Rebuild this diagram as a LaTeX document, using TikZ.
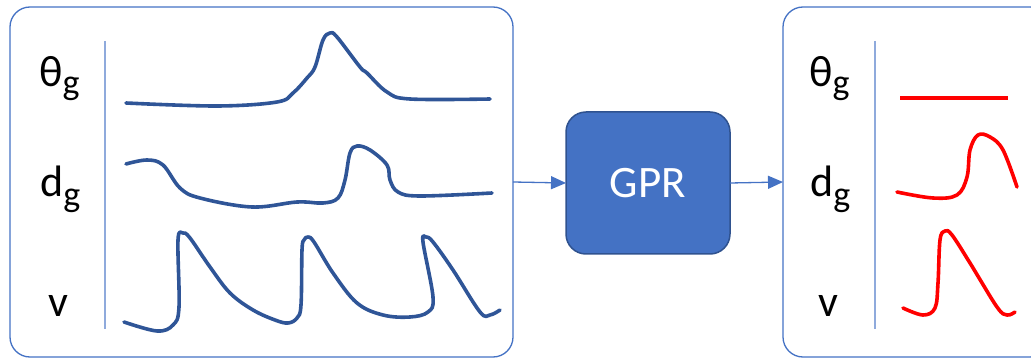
\documentclass[tikz,border=0pt]{standalone}
\usepackage{fontspec}
\setmainfont{Carlito}
\usetikzlibrary{arrows.meta}
\definecolor{boxblue}{HTML}{4472C4}
\definecolor{gprdark}{HTML}{2F528F}
\definecolor{sepblue}{HTML}{8FAADC}
\definecolor{curveblue}{HTML}{2F5597}
\definecolor{predred}{HTML}{FF0000}
\tikzset{
  panel/.style={draw=boxblue, line width=1.3pt, rounded corners=20pt, inner sep=0pt, outer sep=0pt},
  gprbox/.style={draw=gprdark, fill=boxblue, line width=1.5pt, rounded corners=20pt, inner sep=0pt, outer sep=0pt, text=white, font=\fontsize{45}{45}\selectfont},
  flow/.style={draw=boxblue, line width=1.3pt, -{Triangle[length=15pt,width=13pt]}},
  sep/.style={draw=sepblue, line width=1.3pt},
  lab/.style={anchor=base west, inner sep=0pt, font=\fontsize{44}{44}\selectfont},
  incurve/.style={draw=curveblue, line width=3.6pt, line cap=round, line join=round},
  outcurve/.style={draw=predred, line width=3.6pt, line cap=round, line join=round}
}
\newcommand{\subg}[1]{\raisebox{#1}{\fontsize{36}{36}\selectfont g}}
\begin{document}
\begin{tikzpicture}[x=1pt,y=-1pt]
\clip (0,0) rectangle (1031,358);
% panels
\node[panel, minimum width=503pt, minimum height=350pt] (left) at (261.5,182) {};
\node[panel, minimum width=267pt, minimum height=350pt] (right) at (916.5,182) {};
\node[gprbox, minimum width=164pt, minimum height=142pt] (gpr) at (648,183) {GPR};
% arrows
\draw[flow] (left.east) -- (gpr.west);
\draw[flow] (gpr.east) -- (right.west);
% separators
\coordinate (s1a) at (105,41); \coordinate (s1b) at (105,329);
\coordinate (s2a) at (875,41); \coordinate (s2b) at (875,329);
\draw[sep] (s1a) -- (s1b);
\draw[sep] (s2a) -- (s2b);
% labels left
\node[lab] (lt) at (39,87) {θ\subg{-8pt}};
\node[lab] (ld) at (40,197) {d\subg{-10pt}};
\node[lab] (lv) at (48,316) {v};
% labels right
\node[lab] (rt) at (809,87) {θ\subg{-8pt}};
\node[lab] (rd) at (810,197) {d\subg{-10pt}};
\node[lab] (rv) at (818,316) {v};
% input curves
\draw[incurve] plot[smooth, tension=0.6] coordinates {(126,103) (217,106) (277,102) (293,93) (307,78) (315,67) (323,40) (330,33) (337,37) (360,67) (367,73) (387,92) (410,99) (490,99)};
\draw[incurve] plot[smooth, tension=0.6] coordinates {(126,164) (147,160) (163,165) (180,188) (200,198) (252,207) (297,202) (323,203) (338,198) (345,180) (350,153) (357,146) (370,150) (387,165) (390,180) (398,192) (420,196) (492,193)};
\draw[incurve] plot[smooth, tension=0.6] coordinates {(124,322) (157,331) (173,325) (179,307) (178,240) (183,233) (190,238) (210,267) (230,293) (253,310) (275,320) (288,323) (297,318) (301,305) (302,250) (304,240) (308,237) (314,242) (333,273) (357,303) (383,315) (410,317) (428,312) (433,297) (423,242) (426,237) (433,242) (453,270) (480,312) (490,315) (500,310)};
% output curves
\coordinate (o1a) at (900,98); \coordinate (o1b) at (1008,98);
\draw[outcurve, line cap=butt] (o1a) -- (o1b);
\draw[outcurve] plot[smooth, tension=0.6] coordinates {(897,192) (933,198) (957,195) (967,177) (970,150) (978,135) (990,137) (1003,150) (1017,187)};
\draw[outcurve] plot[smooth, tension=0.6] coordinates {(903,308) (923,315) (935,308) (938,283) (940,240) (945,231) (952,235) (970,263) (997,307) (1007,315) (1015,312)};
\end{tikzpicture}
\end{document}
